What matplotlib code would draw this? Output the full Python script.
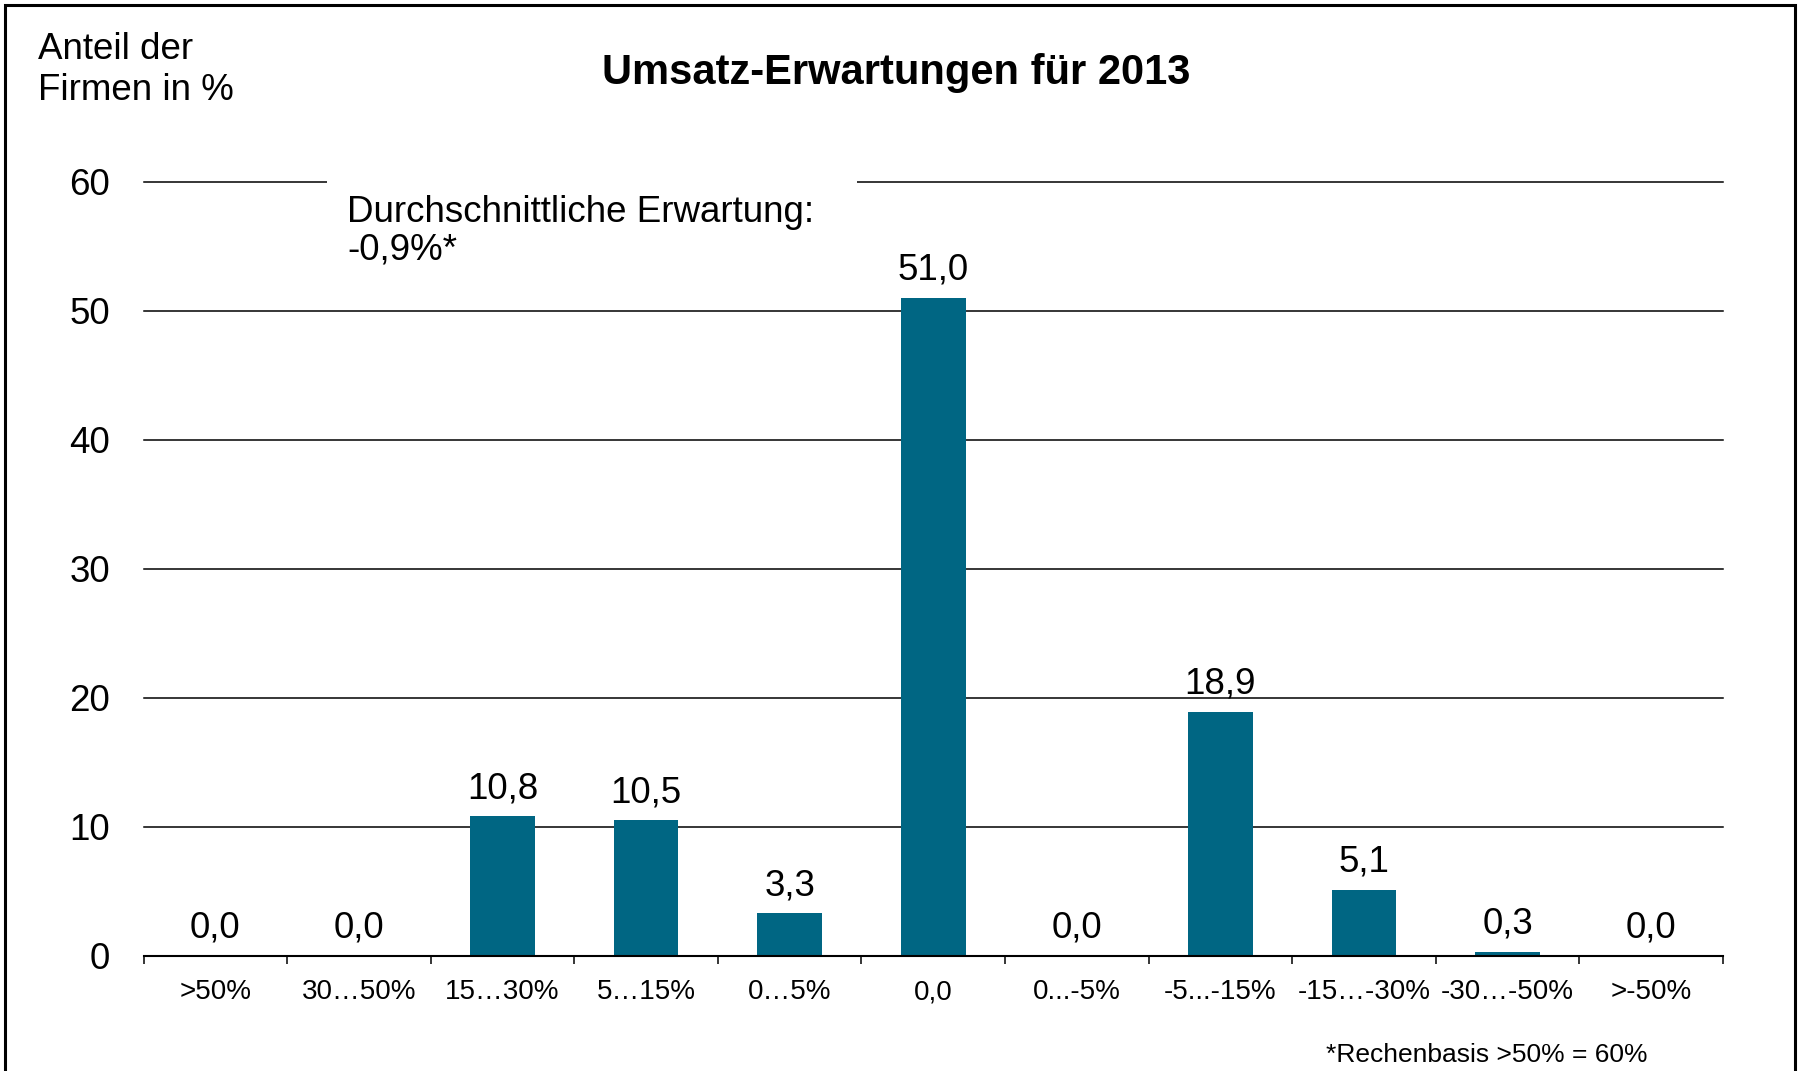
import matplotlib.pyplot as plt
from matplotlib.patches import Rectangle

plt.rcParams['font.family'] = ['Liberation Sans', 'DejaVu Sans']

# Umsatz-Erwartungen fuer 2013, Anteil der Firmen in %
kategorien = ['>50%', '30…50%', '15…30%', '5…15%', '0…5%', '0,0',
              '0...-5%', '-5...-15%', '-15…-30%', '-30…-50%', '>-50%']
anteil = [0.0, 0.0, 10.8, 10.5, 3.3, 51.0, 0.0, 18.9, 5.1, 0.3, 0.04]
y_ticks = [0, 10, 20, 30, 40, 50, 60]

titel = 'Umsatz-Erwartungen für 2013'
y_titel = 'Anteil der\nFirmen in %'
hinweis = 'Durchschnittliche Erwartung:\n-0,9%*'
fussnote = '*Rechenbasis >50% = 60%'

bar_color = '#006683'

fig = plt.figure(figsize=(18.01, 10.71), dpi=100)
ax = fig.add_axes([0.0797, 0.1077, 0.877, 0.7228])

x = list(range(len(kategorien)))
ax.bar(x, anteil, width=0.45, color=bar_color, zorder=3)

for xi, v in zip(x, anteil):
    ax.annotate(f'{v:.1f}'.replace('.', ','), (xi, v), xytext=(0, 13),
                textcoords='offset points', ha='center', va='baseline',
                fontsize=26.5, zorder=4)

ax.set_xlim(-0.5, len(kategorien) - 0.5)
ax.set_ylim(0, 60)

# gridlines
for yt in y_ticks[1:]:
    ax.axhline(yt, color='black', lw=1.1, zorder=1, clip_on=False)

ax.set_yticks(y_ticks)
ax.set_yticklabels([str(t) for t in y_ticks], fontsize=26.5)
ax.tick_params(axis='y', length=0, pad=24)

# ticks between categories, labels at centres
ax.set_xticks([i - 0.5 for i in range(len(kategorien) + 1)])
ax.set_xticklabels([])
ax.tick_params(axis='x', which='major', length=6, width=1.1, direction='out')
ax.set_xticks(x, minor=True)
ax.set_xticklabels(kategorien, minor=True, fontsize=20)
ax.tick_params(axis='x', which='minor', length=0, pad=17)

for s in ['top', 'right', 'left']:
    ax.spines[s].set_visible(False)
ax.spines['bottom'].set_linewidth(1.5)
ax.spines['bottom'].set_zorder(5)

# white box behind the note, cutting the 60 line
ax.add_patch(Rectangle((0.1161, 0.88), 0.3356, 0.14,
                       transform=ax.transAxes, facecolor='white',
                       edgecolor='none', zorder=2, clip_on=False))
ax.text(0.1288, 0.983, hinweis, transform=ax.transAxes, fontsize=26.5,
        ha='left', va='top', linespacing=1.1, zorder=3)

fig.text(0.4975, 0.9216, titel, fontsize=30, fontweight='bold',
         ha='center', va='baseline')
fig.text(0.0211, 0.970, y_titel, fontsize=26.5, ha='left', va='top',
         linespacing=1.2)
fig.text(0.8255, 0.008, fussnote, fontsize=19, ha='center',
         va='baseline')

# frame around the whole chart
fig.patches.append(Rectangle((5 / 1801, -0.01), 1790 / 1801, 1.01 - 5 / 1071,
                             transform=fig.transFigure, fill=False,
                             edgecolor='black', lw=2.2))

fig.savefig('out.png', dpi=100)
